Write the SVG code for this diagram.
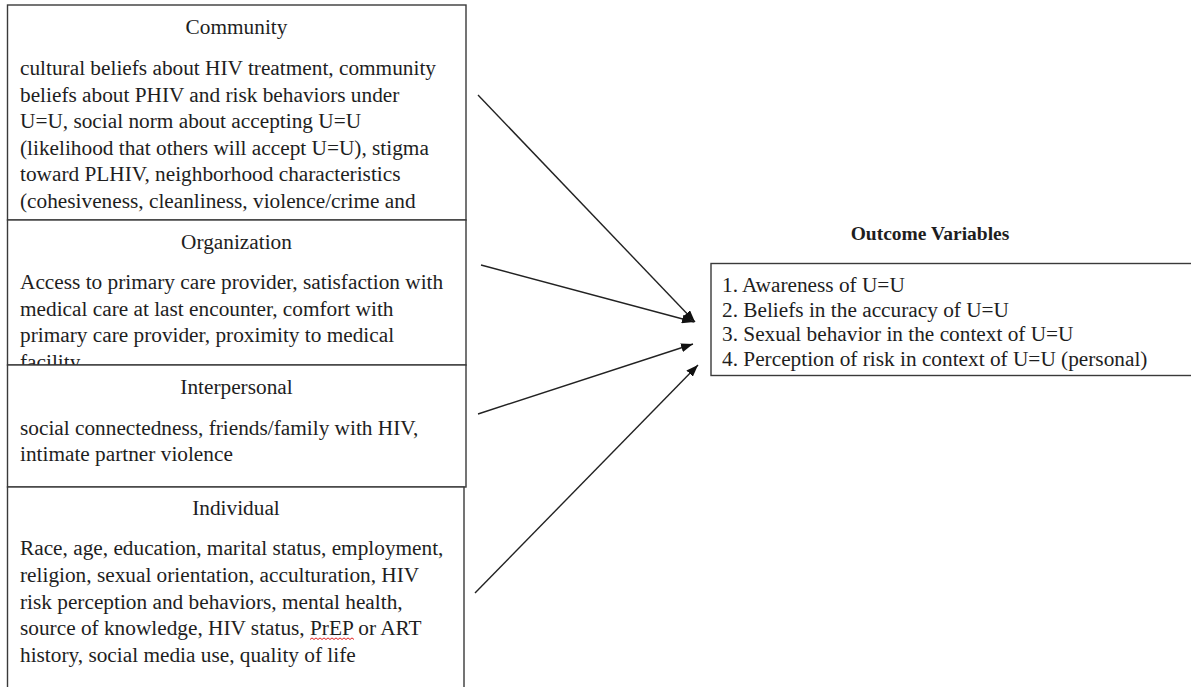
<svg xmlns="http://www.w3.org/2000/svg" width="1191" height="687" viewBox="0 0 1191 687">
<style>
.box{fill:#ffffff;stroke:#3a3a3a;stroke-width:1.4}
.t{font-family:"Liberation Serif","Times New Roman",serif;font-size:21.3px;fill:#1e1e1e}
.h{text-anchor:middle}
.ob{font-family:"Liberation Serif","Times New Roman",serif;font-size:19.5px;font-weight:bold;fill:#1e1e1e;text-anchor:middle}
.c{stroke:#222222;stroke-width:1.4;fill:none}
.sp{stroke:#e02020;stroke-width:1;fill:none}
</style>
<defs>
<marker id="ah" markerWidth="12" markerHeight="9" refX="12" refY="4.5" orient="auto" markerUnits="userSpaceOnUse">
<path d="M0,0 L12,4.5 L0,9 z" fill="#111111"/>
</marker>
<clipPath id="cpCom"><rect x="7" y="5" width="460" height="215"/></clipPath>
<clipPath id="cpOrg"><rect x="7" y="220" width="460" height="145"/></clipPath>
<clipPath id="cpInt"><rect x="7" y="365" width="460" height="122"/></clipPath>
<clipPath id="cpInd"><rect x="7" y="487" width="460" height="200"/></clipPath>
</defs>
<rect x="0" y="0" width="1191" height="687" fill="#ffffff"/>

<g id="community">
<rect class="box" x="7.5" y="5" width="458.5" height="215"/>
<g clip-path="url(#cpCom)">
<text class="t h" x="236.5" y="34">Community</text>
<text class="t" x="20" y="75">cultural beliefs about HIV treatment, community</text>
<text class="t" x="20" y="101.5">beliefs about PHIV and risk behaviors under</text>
<text class="t" x="20" y="128">U=U, social norm about accepting U=U</text>
<text class="t" x="20" y="154.5">(likelihood that others will accept U=U), stigma</text>
<text class="t" x="20" y="181">toward PLHIV, neighborhood characteristics</text>
<text class="t" x="20" y="207.5">(cohesiveness, cleanliness, violence/crime and</text>
</g>
</g>

<g id="organization">
<rect class="box" x="7.5" y="220" width="458.5" height="145"/>
<g clip-path="url(#cpOrg)">
<text class="t h" x="236.5" y="249">Organization</text>
<text class="t" x="20" y="289">Access to primary care provider, satisfaction with</text>
<text class="t" x="20" y="315.5">medical care at last encounter, comfort with</text>
<text class="t" x="20" y="342">primary care provider, proximity to medical</text>
<text class="t" x="20" y="368.5">facility</text>
</g>
</g>

<g id="interpersonal">
<rect class="box" x="7.5" y="365" width="458.5" height="122"/>
<g clip-path="url(#cpInt)">
<text class="t h" x="236.5" y="394">Interpersonal</text>
<text class="t" x="20" y="435">social connectedness, friends/family with HIV,</text>
<text class="t" x="20" y="461">intimate partner violence</text>
</g>
</g>

<g id="individual">
<rect class="box" x="7.5" y="487" width="456.5" height="212"/>
<g clip-path="url(#cpInd)">
<text class="t h" x="236" y="515">Individual</text>
<text class="t" x="20" y="555">Race, age, education, marital status, employment,</text>
<text class="t" x="20" y="582">religion, sexual orientation, acculturation, HIV</text>
<text class="t" x="20" y="609">risk perception and behaviors, mental health,</text>
<text class="t" x="20" y="635">source of knowledge, HIV status, PrEP or ART</text>
<text class="t" x="20" y="662">history, social media use, quality of life</text>
<path class="sp" d="M310 639.5 l2 -1.6 l2 1.6 l2 -1.6 l2 1.6 l2 -1.6 l2 1.6 l2 -1.6 l2 1.6 l2 -1.6 l2 1.6 l2 -1.6 l2 1.6 l2 -1.6 l2 1.6 l2 -1.6 l2 1.6 l2 -1.6 l2 1.6 l2 -1.6 l2 1.6 l2 -1.6 l2 1.6"/>
</g>
</g>

<g id="outcome">
<text class="ob" x="930" y="240">Outcome Variables</text>
<rect class="box" x="711" y="263.5" width="492" height="112"/>
<text class="t" x="722" y="292">1. Awareness of U=U</text>
<text class="t" x="722" y="316.5">2. Beliefs in the accuracy of U=U</text>
<text class="t" x="722" y="341">3. Sexual behavior in the context of U=U</text>
<text class="t" x="722" y="365.5">4. Perception of risk in context of U=U (personal)</text>
</g>

<g id="connectors">
<line class="c" x1="478" y1="95" x2="695" y2="322" marker-end="url(#ah)"/>
<line class="c" x1="481" y1="265" x2="694" y2="322" marker-end="url(#ah)"/>
<line class="c" x1="478" y1="414" x2="693" y2="344" marker-end="url(#ah)"/>
<line class="c" x1="475" y1="593" x2="698" y2="365" marker-end="url(#ah)"/>
</g>
</svg>
